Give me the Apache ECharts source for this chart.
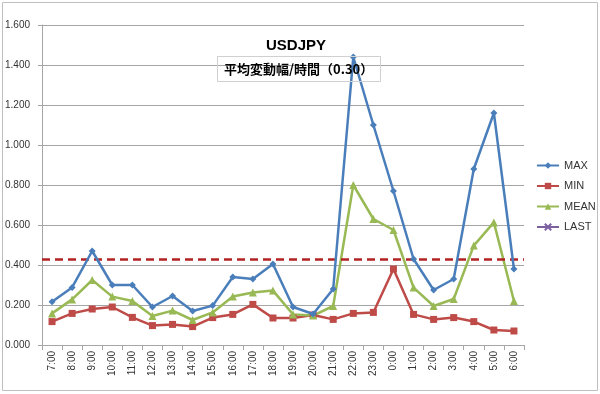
<!DOCTYPE html>
<html><head><meta charset="utf-8">
<script src="https://cdn.jsdelivr.net/npm/echarts@6/dist/echarts.min.js"></script>
<style>html,body{margin:0;padding:0;background:#fff}#c{width:600px;height:394px}</style>
</head><body><div id="c"></div>
<script>
const categories = ["7:00","8:00","9:00","10:00","11:00","12:00","13:00","14:00","15:00","16:00","17:00","18:00","19:00","20:00","21:00","22:00","23:00","0:00","1:00","2:00","3:00","4:00","5:00","6:00"];
const maxValues  = [0.216,0.288,0.470,0.300,0.300,0.190,0.245,0.170,0.197,0.340,0.330,0.405,0.190,0.155,0.280,1.440,1.100,0.770,0.430,0.275,0.330,0.880,1.160,0.380];
const minValues  = [0.117,0.158,0.180,0.190,0.138,0.097,0.103,0.092,0.137,0.153,0.203,0.135,0.135,0.150,0.128,0.158,0.163,0.380,0.153,0.128,0.137,0.117,0.075,0.070];
const meanValues = [0.158,0.228,0.325,0.242,0.220,0.145,0.172,0.125,0.163,0.242,0.262,0.272,0.153,0.147,0.195,0.800,0.630,0.575,0.287,0.195,0.230,0.497,0.613,0.220];
const lastValues = [];
const averageLevel = 0.433;
const titleText = "USDJPY";
const subText = "平均変動幅/時間（0.30）";

const chart = echarts.init(document.getElementById('c'));
const font = '"Liberation Sans", Arial, sans-serif';
chart.setOption({
  animation: false,
  backgroundColor: '#fff',
  graphic: [{type:'rect', shape:{x:2.5,y:2.5,width:595,height:388}, style:{fill:'none', stroke:'#bfbfbf', lineWidth:1}, z:-1}],
  title: [
    {text: titleText, left: 291, top: 33, textAlign: 'center',
     textStyle:{fontFamily:font, fontSize:15, fontWeight:'bold', color:'#000'}},
    {text: subText, left: 217, top: 56, padding:[5,7,5,7], borderColor:'#d0d0d0', borderWidth:1,
     textStyle:{fontFamily:'"Noto Sans CJK JP", sans-serif', fontSize:13, lineHeight:16, fontWeight:'bold', color:'#000'}}
  ],
  legend: {
    orient:'vertical', left: 531, top: 155, itemGap: 9.5, itemWidth: 22, itemHeight: 8,
    textStyle:{fontFamily:font, fontSize:11, color:'#333'},
    data:['MAX','MIN','MEAN','LAST']
  },
  grid: {left:42, right:76, top:25, bottom:49},
  xAxis: {
    type:'category', data: categories, boundaryGap:true,
    axisLine:{lineStyle:{color:'#a6a6a6'}},
    axisTick:{show:true, alignWithLabel:false, lineStyle:{color:'#a6a6a6'}},
    axisLabel:{rotate:90, fontFamily:font, fontSize:10, color:'#333', interval:0, margin:6}
  },
  yAxis: {
    type:'value', min:0, max:1.6, interval:0.2,
    axisLine:{show:true, lineStyle:{color:'#a6a6a6'}},
    axisTick:{show:true, length:4, lineStyle:{color:'#a6a6a6'}},
    splitLine:{lineStyle:{color:'#a6a6a6', width:1}},
    axisLabel:{fontFamily:font, fontSize:10, color:'#333', formatter: v => v.toFixed(3), margin:12}
  },
  series: [
    {name:'MAX', type:'line', data:maxValues, symbol:'diamond', symbolSize:7,
     itemStyle:{color:'#4a7ebb'}, lineStyle:{width:2.5, color:'#4a7ebb'}, z:5,
     markLine:{silent:true, symbol:'none', label:{show:false},
       lineStyle:{color:'#b22222', type:[8,5], width:2.5}, data:[{yAxis: averageLevel}]}},
    {name:'MIN', type:'line', data:minValues, symbol:'rect', symbolSize:7,
     itemStyle:{color:'#be4b48'}, lineStyle:{width:2.5, color:'#be4b48'}},
    {name:'MEAN', type:'line', data:meanValues, symbol:'triangle', symbolSize:8,
     itemStyle:{color:'#98b954'}, lineStyle:{width:2.5, color:'#98b954'}},
    {name:'LAST', type:'line', data:lastValues, symbol:'path://M0,0L10,10M10,0L0,10', symbolSize:8,
     itemStyle:{color:'#7d60a0', borderColor:'#7d60a0', borderWidth:1.5}, lineStyle:{width:2.5, color:'#7d60a0'}}
  ]
});
</script></body></html>
